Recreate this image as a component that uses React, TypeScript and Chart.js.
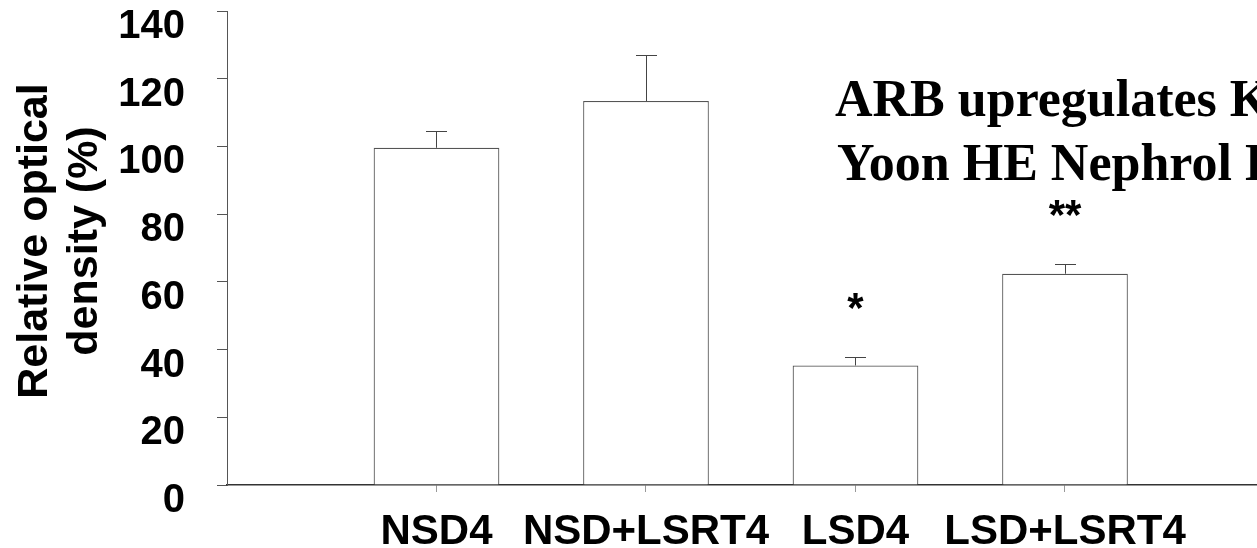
import { useEffect, useRef } from "react";
import { Chart, registerables } from "chart.js";

Chart.register(...registerables);

const categories = ["NSD4", "NSD+LSRT4", "LSD4", "LSD+LSRT4"];
const means = [99.6, 113.4, 35.3, 62.4];
const errors = [5.1, 13.7, 2.5, 2.9];
const markers = ["", "", "*", "**"];
const yTitle = ["Relative optical", "density (%)"];
const noteLines = ["ARB upregulates Klotho", "Yoon HE Nephrol Dial Transplant 2011"];

const SANS = "'Liberation Sans', Arial, Helvetica, sans-serif";
const SERIF = "'Liberation Serif', 'Times New Roman', serif";

const errorBarPlugin = {
  id: "errorBars",
  afterDatasetsDraw(chart: any) {
    const meta = chart.getDatasetMeta(0);
    const yScale = chart.scales.y;
    const ctx = chart.ctx;
    ctx.save();
    ctx.strokeStyle = "#444";
    ctx.lineWidth = 1;
    meta.data.forEach((bar: any, i: number) => {
      const top = yScale.getPixelForValue(means[i] + errors[i]);
      const x = Math.round(bar.x) + 0.5;
      const t = Math.round(top) + 0.5;
      ctx.beginPath();
      ctx.moveTo(x, bar.y);
      ctx.lineTo(x, t);
      ctx.moveTo(x - 10.5, t);
      ctx.lineTo(x + 10.5, t);
      ctx.stroke();
      if (markers[i]) {
        ctx.fillStyle = "#000";
        ctx.font = `bold 42px ${SANS}`;
        ctx.textAlign = "center";
        ctx.textBaseline = "alphabetic";
        ctx.fillText(markers[i], bar.x, top - 35);
      }
    });
    ctx.restore();
  },
};

const textPlugin = {
  id: "texts",
  afterDraw(chart: any) {
    const ctx = chart.ctx;
    const area = chart.chartArea;
    ctx.save();
    ctx.fillStyle = "#000";
    ctx.font = `bold 43px ${SANS}`;
    ctx.textAlign = "center";
    ctx.textBaseline = "alphabetic";
    const cy = (area.top + area.bottom) / 2 - 7;
    ctx.translate(47, cy);
    ctx.rotate(-Math.PI / 2);
    ctx.fillText(yTitle[0], 0, 0);
    ctx.fillText(yTitle[1], 0, 50);
    ctx.setTransform(1, 0, 0, 1, 0, 0);
    ctx.font = `bold 52px ${SERIF}`;
    ctx.textAlign = "left";
    ctx.fillText(noteLines[0], 835, 116);
    ctx.fillText(noteLines[1], 837, 180);
    ctx.restore();
  },
};

export default function App() {
  const ref = useRef<HTMLCanvasElement | null>(null);

  useEffect(() => {
    if (!ref.current) return;
    Chart.defaults.font.family = SANS;
    const chart = new Chart(ref.current, {
      type: "bar",
      data: {
        datasets: [
          {
            data: means.map((v, i) => ({ x: i + 1, y: v })),
            backgroundColor: "#ffffff",
            borderColor: "#555555",
            borderWidth: 1.2,
            categoryPercentage: 1,
            barPercentage: 0.6,
          },
        ],
      },
      options: {
        responsive: false,
        animation: false,
        devicePixelRatio: 1,
        layout: { padding: { top: 11, left: 0, right: 0, bottom: 0 } },
        plugins: { legend: { display: false }, tooltip: { enabled: false } },
        scales: {
          x: {
            type: "linear",
            min: 0,
            max: 4.9165,
            offset: false,
            afterBuildTicks: (s: any) => {
              s.ticks = categories.map((_, i) => ({ value: i + 1 }));
            },
            afterFit: (s: any) => {
              s.height = 63;
              s.paddingLeft = 0;
              s.paddingRight = 0;
            },
            ticks: {
              callback: (v: any) => categories[Number(v) - 1] ?? "",
              font: { size: 42, weight: "bold" },
              color: "#000",
              padding: 15,
              maxRotation: 0,
              minRotation: 0,
              autoSkip: false,
            },
            grid: { drawOnChartArea: false, offset: false, tickLength: 7, color: "#999" },
            border: { color: "#333", width: 1.5 },
          },
          y: {
            min: 0,
            max: 140,
            afterFit: (s: any) => {
              s.width = 227;
              s.paddingTop = 0;
              s.paddingBottom = 0;
            },
            ticks: {
              stepSize: 20,
              font: { size: 40, weight: "bold" },
              color: "#000",
              padding: 32,
              labelOffset: 16,
            },
            grid: { drawOnChartArea: false, tickLength: 10, color: "#555" },
            border: { color: "#555", width: 1 },
            title: { display: false },
          },
        },
      },
      plugins: [errorBarPlugin, textPlugin],
    } as any);
    return () => chart.destroy();
  }, []);

  return (
    <div style={{ position: "fixed", left: 0, top: 0, width: 1257, height: 548, background: "#fff" }}>
      <canvas ref={ref} width={1257} height={548} style={{ display: "block" }} />
    </div>
  );
}
